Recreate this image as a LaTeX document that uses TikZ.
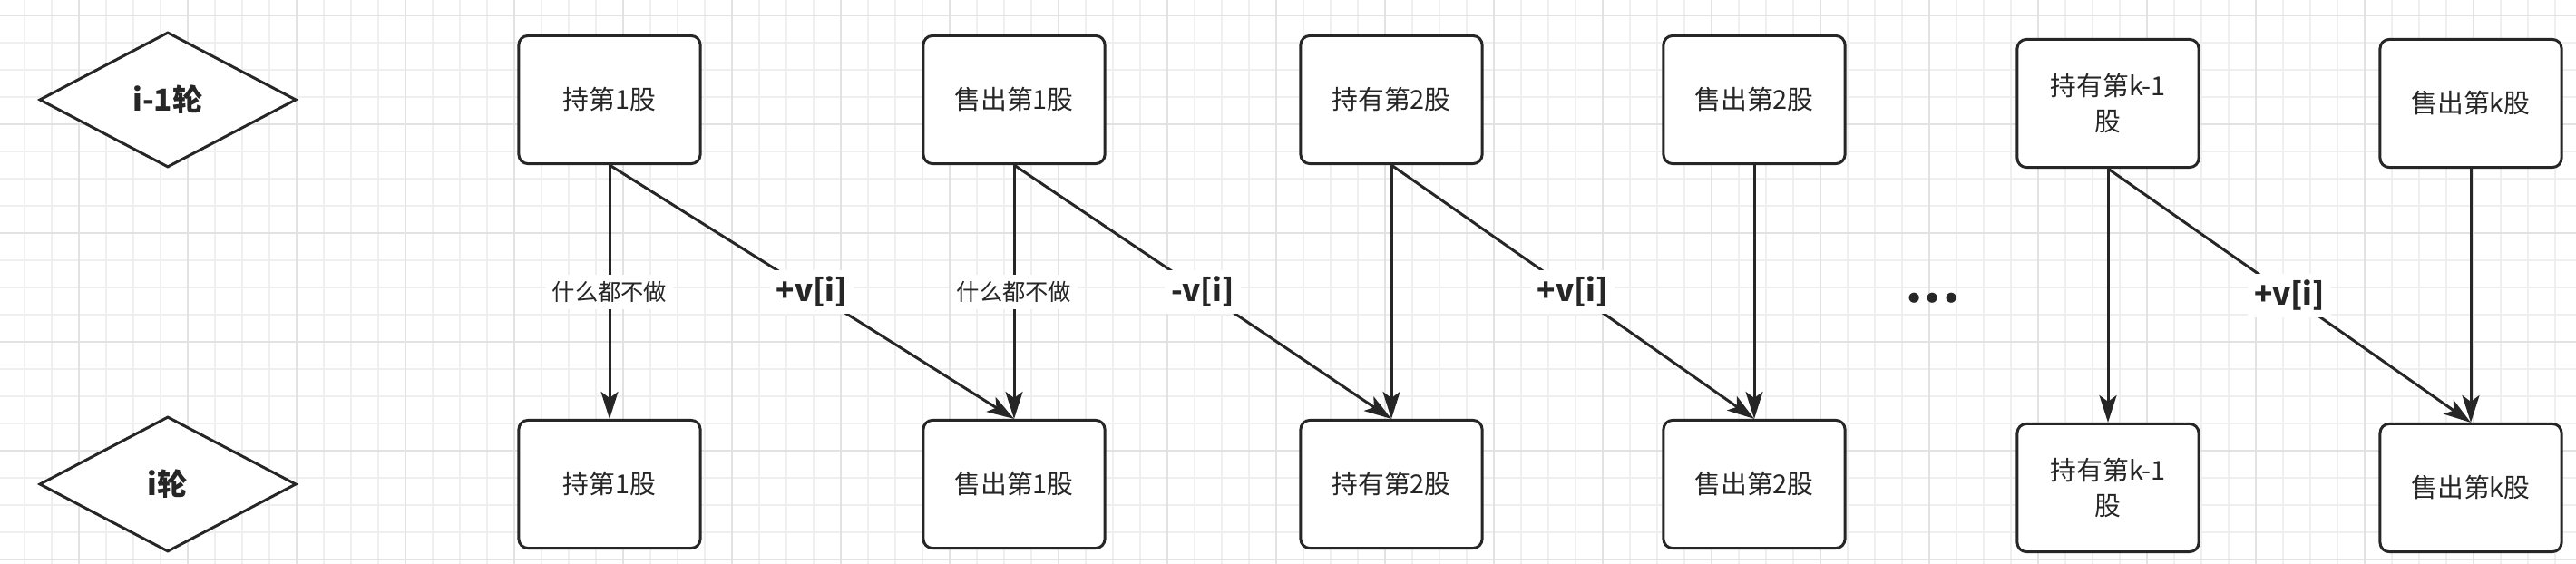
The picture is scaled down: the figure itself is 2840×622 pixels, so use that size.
\documentclass[tikz,border=0pt]{standalone}
\usepackage{fontspec}
\setmainfont{Noto Sans CJK SC}
\newfontfamily\dotfont{DejaVu Sans}
\usetikzlibrary{shapes.geometric,arrows.meta}
\definecolor{ink}{HTML}{262626}
\definecolor{gridminor}{HTML}{EFEFEF}
\definecolor{gridmajor}{HTML}{E2E2E2}

\begin{document}
\begin{tikzpicture}[x=0.01cm, y=-0.01cm,
    every node/.style={text=ink},
    statebox/.style={draw=ink, line width=0.85pt, rounded corners=0.1cm, fill=white,
        minimum width=2cm, minimum height=1.41cm, align=center,
        font=\fontsize{8.2}{11}\selectfont},
    roundbox/.style={diamond, draw=ink, line width=0.85pt, fill=white, inner sep=0pt,
        minimum width=2.83cm, minimum height=1.49cm, font=\fontsize{9.5}{11}\selectfont\bfseries},
    move/.style={-{Stealth[length=3mm,width=1.9mm,inset=0.7mm]}, draw=ink, line width=0.85pt},
    idle/.style={fill=white, inner sep=2pt, font=\fontsize{7.2}{9}\selectfont},
    gain/.style={fill=white, inner sep=2pt, font=\fontsize{9.5}{11}\selectfont\bfseries}]
    % 背景网格
    \useasboundingbox (0,0) rectangle (2840,622);
    \fill[white] (0,0) rectangle (2840,622);
    \foreach \x in {27,57,...,2840} \draw[gridminor, line width=0.5pt] (\x,0) -- (\x,622);
    \foreach \y in {17,47,...,622} \draw[gridminor, line width=0.5pt] (0,\y) -- (2840,\y);
    \foreach \x in {87,207,...,2840} \draw[gridmajor, line width=0.8pt] (\x,0) -- (\x,622);
    \foreach \y in {17,137,...,622} \draw[gridmajor, line width=0.8pt] (0,\y) -- (2840,\y);
    % 轮次
    \node[roundbox] (prev) at (185,110) {i-1轮};
    \node[roundbox] (curr) at (185,534) {i轮};
    % 状态 (上: 第i-1轮, 下: 第i轮)
    \foreach \n/\x/\y/\t in {1/672/110/持第1股, 2/1118/110/售出第1股, 3/1534/110/持有第2股,
        4/1934/110/售出第2股, 5/2324/114/{持有第k-1\\股}, 6/2724/114/售出第k股} {
        \node[statebox] (t\n) at (\x,\y) {\t};
        \node[statebox] (b\n) at (\x,\y+424) {\t};
    }
    % 转移
    \draw[move] (t1) -- node[idle] {什么都不做} (b1);
    \draw[move] (t1.south) -- node[gain] {+v[i]} (b2.north);
    \draw[move] (t2) -- node[idle] {什么都不做} (b2);
    \draw[move] (t2.south) -- node[gain] {-v[i]} (b3.north);
    \draw[move] (t3) -- (b3);
    \draw[move] (t3.south) -- node[gain] {+v[i]} (b4.north);
    \draw[move] (t4) -- (b4);
    \draw[move] (t5) -- (b5);
    \draw[move] (t5.south) -- node[gain] {+v[i]} (b6.north);
    \draw[move] (t6) -- (b6);
    % 省略
    \node[font=\fontsize{9}{9}\dotfont\bfseries, inner sep=0pt] (dots) at (2131,332) {•••};
\end{tikzpicture}
\end{document}
